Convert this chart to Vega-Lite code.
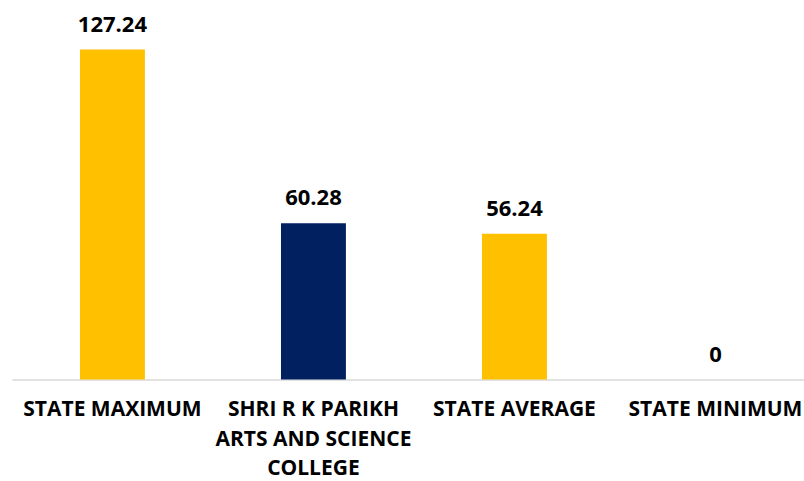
{
  "$schema": "https://vega.github.io/schema/vega-lite/v6.json",
  "width": 792,
  "height": 363,
  "autosize": "none",
  "padding": {"left": 12, "top": 16.5, "right": 0, "bottom": 101.5},
  "background": "white",
  "config": {"view": {"stroke": null}},
  "data": {
    "values": [
      {"category": "STATE MAXIMUM", "value": 127.24, "group": "state"},
      {"category": "SHRI R K PARIKH ARTS AND SCIENCE COLLEGE", "value": 60.28, "group": "college"},
      {"category": "STATE AVERAGE", "value": 56.24, "group": "state"},
      {"category": "STATE MINIMUM", "value": 0, "group": "state"}
    ]
  },
  "encoding": {
    "x": {
      "field": "category",
      "type": "nominal",
      "sort": null,
      "scale": {"paddingInner": 0.677, "paddingOuter": 0.3085, "align": 0.548},
      "axis": {
        "title": null,
        "labelAngle": 0,
        "ticks": false,
        "tickSize": 0,
        "labelPadding": 19,
        "labelFont": "Open Sans",
        "labelFontWeight": "bold",
        "labelFontSize": 21,
        "labelColor": "#000000",
        "labelLineHeight": 29.5,
        "labelLimit": 0,
        "domainColor": "#d9d9d9",
        "domainWidth": 1.5,
        "labelExpr": "datum.value == 'SHRI R K PARIKH ARTS AND SCIENCE COLLEGE' ? ['SHRI R K PARIKH', 'ARTS AND SCIENCE', 'COLLEGE'] : datum.value"
      }
    },
    "y": {
      "field": "value",
      "type": "quantitative",
      "scale": {"domain": [0, 140], "nice": false},
      "axis": null
    }
  },
  "layer": [
    {
      "mark": {"type": "bar"},
      "encoding": {
        "color": {
          "field": "group",
          "type": "nominal",
          "scale": {"domain": ["state", "college"], "range": ["#FFC000", "#002060"]},
          "legend": null
        }
      }
    },
    {
      "mark": {"type": "text", "baseline": "alphabetic", "dy": -18, "font": "Open Sans", "fontWeight": "bold", "fontSize": 22, "color": "#000000"},
      "encoding": {
        "text": {"field": "value", "type": "quantitative", "format": ".2~f"}
      }
    }
  ]
}
